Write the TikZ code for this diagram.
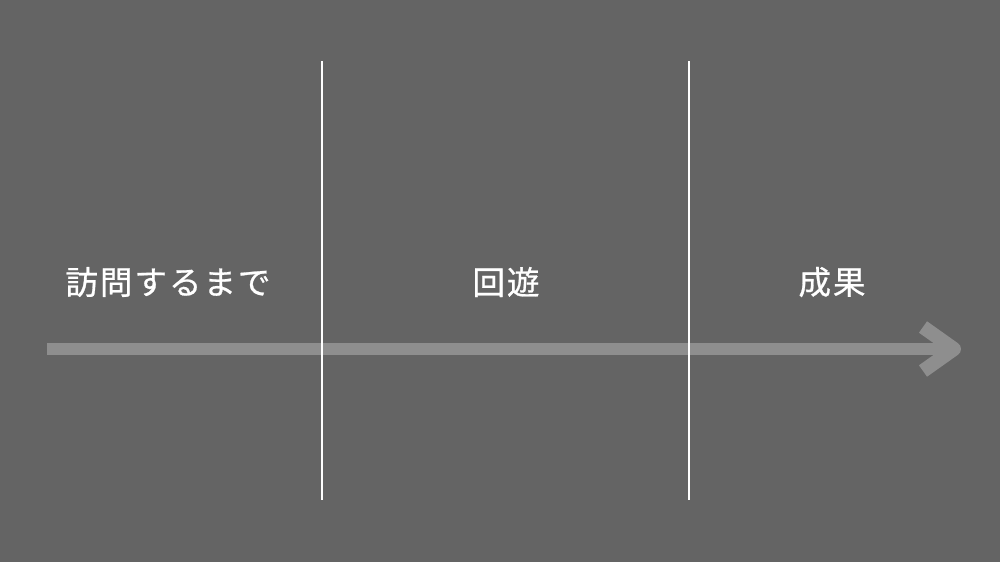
\documentclass[tikz,border=0pt]{standalone}
\usepackage{fontspec}
\newfontfamily\jp[FakeBold=0.8]{Noto Sans CJK JP}
\definecolor{bg}{HTML}{646464}
\definecolor{bar}{HTML}{8E8E8E}
\begin{document}
\begin{tikzpicture}[x=1pt,y=-1pt,
  label/.style={text=white,font=\jp\fontsize{32.5}{32.5}\selectfont,inner sep=0pt,anchor=center},
  divider/.style={draw=white,line width=1.1pt},
  flow/.style={draw=bar,line width=12pt}]
\fill[bg] (0,0) rectangle (1000,562);
\useasboundingbox (0,0) rectangle (1000,562);
% arrow
\coordinate (s) at (47,349);
\coordinate (e) at (954,349);
\coordinate (u) at (923,327);
\coordinate (d) at (923,371);
\draw[flow] (s) -- (e);
\draw[draw=bar,line width=14pt,line join=round] (u) -- (e) -- (d);
% dividers
\coordinate (a1) at (322,61);
\coordinate (a2) at (322,500);
\coordinate (b1) at (689,61);
\coordinate (b2) at (689,500);
\draw[divider] (a1) -- (a2);
\draw[divider] (b1) -- (b2);
% labels
\node[label] (t1) at (168,282) {訪\kern2pt 問\kern2pt す\kern2pt る\kern2pt ま\kern2pt で};
\node[label] (t2) at (506,282) {回\kern2pt 遊};
\node[label] (t3) at (832,282) {成\kern2pt 果};
\end{tikzpicture}
\end{document}
